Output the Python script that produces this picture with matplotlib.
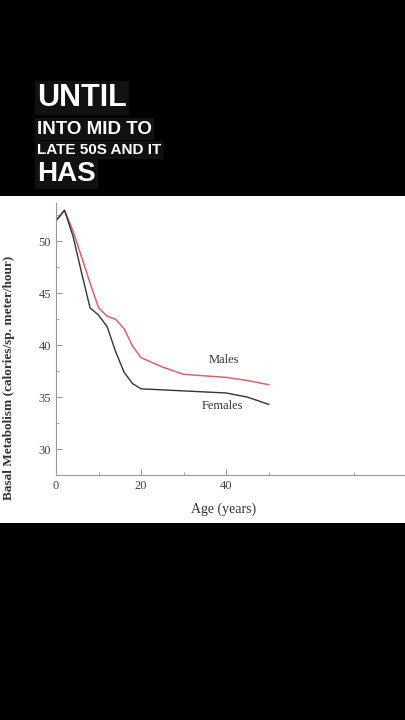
import matplotlib.pyplot as plt
import numpy as np

# curve values
male_age = [0, 2, 4, 6, 8, 10, 12, 14, 16, 18, 20, 25, 30, 40, 45, 50]
male_bmr = [52, 53, 51, 48.5, 46, 43.6, 42.8, 42.5, 41.6, 39.9, 38.8, 37.9, 37.2, 36.9, 36.6, 36.2]
fem_age = [0, 2, 4, 6, 8, 10, 12, 14, 16, 18, 20, 30, 40, 45, 50]
fem_bmr = [52, 53, 50.5, 47, 43.6, 42.9, 41.8, 39.4, 37.4, 36.3, 35.8, 35.6, 35.4, 35.0, 34.3]
yticks = [30, 35, 40, 45, 50]
xticks = [0, 20, 40]
captions = ["UNTIL", "INTO MID TO", "LATE 50S AND IT", "HAS"]

fig = plt.figure(figsize=(4.05, 7.2), dpi=100, facecolor='black')

# white chart panel
panel = fig.add_axes([0, (720-523)/720, 1, (523-196)/720])
panel.set_facecolor('white')
panel.set_xticks([]); panel.set_yticks([])
for s in panel.spines.values():
    s.set_visible(False)

ax = fig.add_axes([56/405, (720-475)/720, 1 - 56/405, (475-203)/720])
ax.set_facecolor('white')
ax.plot(male_age, male_bmr, color='#d9646c', lw=1.1)
ax.plot(fem_age, fem_bmr, color='#333333', lw=1.0)
ax.set_xlim(0, 82)
ax.set_ylim(27.9, 53.7)
ax.set_xticks(xticks)
ax.set_yticks(yticks)
ax.set_xticks([10, 30, 50, 70], minor=True)
ax.set_yticks(np.arange(27.5, 53.6, 2.5), minor=True)
for s in ['top', 'right']:
    ax.spines[s].set_visible(False)
for s in ['left', 'bottom']:
    ax.spines[s].set_color('#999999')
ax.tick_params(colors='#999999', labelcolor='#444444', labelsize=9, direction='in', length=4)
ax.tick_params(which='minor', direction='in', length=2, colors='#999999')
for lab in ax.get_xticklabels() + ax.get_yticklabels():
    lab.set_family('Liberation Serif')
ax.text(39.5, 38.3, "Males", family='Liberation Serif', fontsize=9, color='#333333', ha='center')
ax.text(39, 33.9, "Females", family='Liberation Serif', fontsize=9, color='#333333', ha='center')
ax.set_xlabel("Age (years)", family='Liberation Serif', fontsize=10, color='#333333', x=0.48, labelpad=8)
fig.text(0.022, 0.475, "Basal Metabolism (calories/sp. meter/hour)", rotation=90,
         family='Liberation Serif', fontweight='bold', fontsize=9.5, color='#333333',
         ha='center', va='center')

# caption lines
ys = [98, 129, 150, 174]
sizes = [22, 13.5, 11, 20]
for txt, y, sz in zip(captions, ys, sizes):
    fig.text(37/405, 1 - y/720, txt, color='white', fontsize=sz, fontweight='bold',
             family='Liberation Sans', va='center', ha='left',
             bbox=dict(facecolor='#111111', edgecolor='none', pad=1.5))

fig.savefig('out.png', dpi=100, facecolor='black')
